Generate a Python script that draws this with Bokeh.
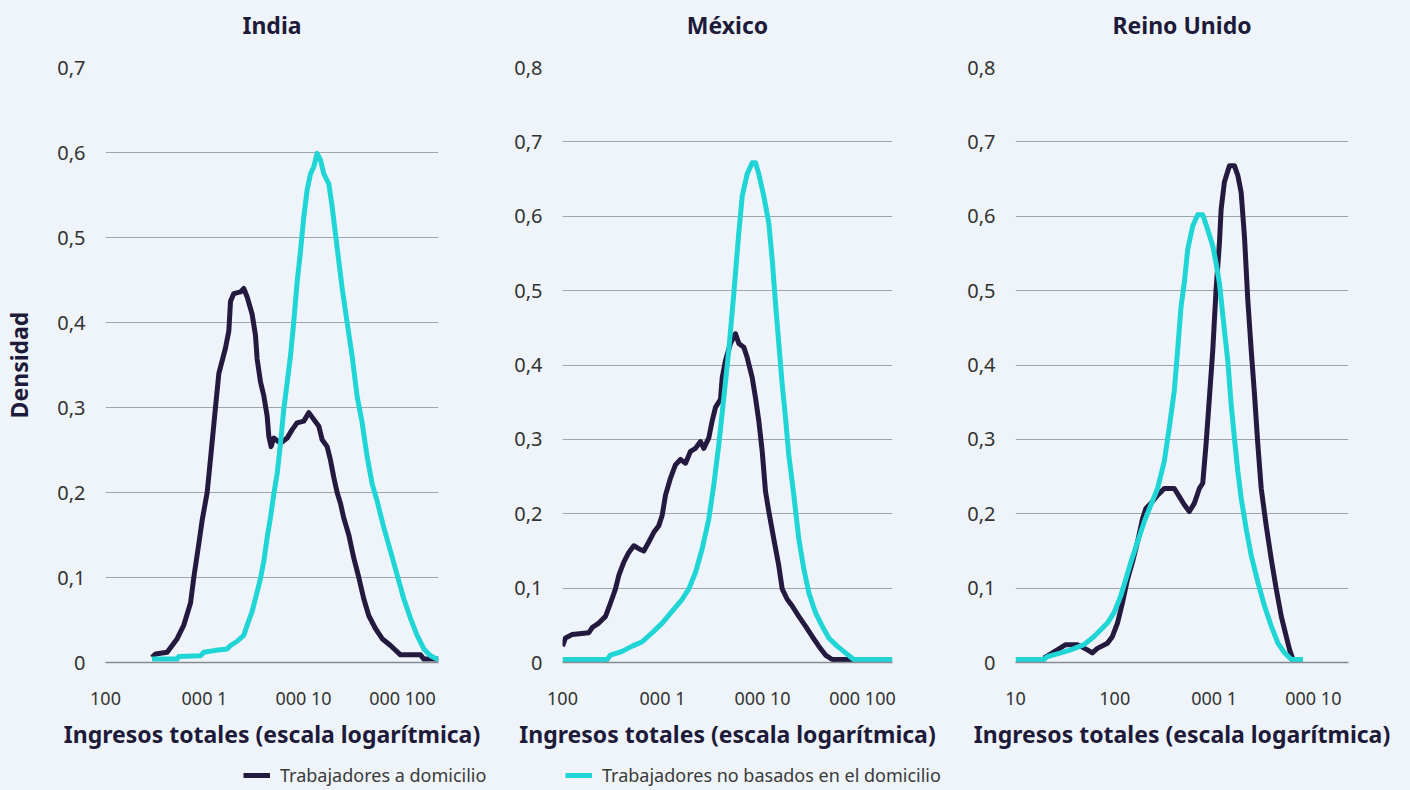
from bokeh.plotting import figure
from bokeh.layouts import row, column
from bokeh.models import Range1d, FixedTicker, Legend, LegendItem, CustomJSTickFormatter, Title
from bokeh.embed import file_html
from bokeh.resources import INLINE

BG = "#EEF4FA"
DARK = "#241A40"
CYAN = "#1FD5D5"
GRID = "#A0A5AB"
TXT = "#333333"
TITLE_C = "#1E1A3A"
FONT = "Noto Sans"

# ---------------- data (log10 of total income, density) ----------------
india_dom_log = [2.47, 2.505, 2.623, 2.724, 2.791, 2.859, 2.892, 2.943, 2.976, 3.027, 3.061, 3.111, 3.145,
                 3.212, 3.246, 3.263, 3.296, 3.364, 3.397, 3.431, 3.481, 3.515, 3.532, 3.566, 3.599, 3.633,
                 3.65, 3.673, 3.7, 3.768, 3.835, 3.886, 3.936, 4.003, 4.054, 4.104, 4.155, 4.189, 4.239,
                 4.273, 4.306, 4.34, 4.374, 4.407, 4.458, 4.508, 4.559, 4.609, 4.66, 4.727, 4.795, 4.879,
                 4.98, 5.182, 5.216, 5.364]
india_dom_den = [0.006, 0.01, 0.012, 0.028, 0.044, 0.07, 0.1, 0.14, 0.167, 0.2, 0.24, 0.3, 0.34,
                 0.37, 0.39, 0.425, 0.434, 0.436, 0.44, 0.43, 0.41, 0.385, 0.357, 0.33, 0.314, 0.29,
                 0.266, 0.254, 0.264, 0.258, 0.264, 0.274, 0.282, 0.284, 0.294, 0.286, 0.278, 0.262, 0.254,
                 0.238, 0.218, 0.2, 0.187, 0.17, 0.15, 0.123, 0.1, 0.075, 0.055, 0.04, 0.028, 0.02,
                 0.009, 0.009, 0.004, 0.004]
india_nodom_log = [2.47, 2.724, 2.74, 2.96, 2.993, 3.094, 3.229, 3.263, 3.33, 3.397, 3.431, 3.481, 3.532,
                   3.566, 3.599, 3.633, 3.667, 3.7, 3.734, 3.768, 3.801, 3.835, 3.869, 3.902, 3.936, 3.97,
                   4.003, 4.037, 4.071, 4.104, 4.138, 4.172, 4.205, 4.256, 4.29, 4.323, 4.357, 4.391, 4.441,
                   4.492, 4.542, 4.593, 4.643, 4.694, 4.744, 4.811, 4.879, 4.946, 5.013, 5.081, 5.148, 5.216,
                   5.283, 5.35, 5.364]
india_nodom_den = [0.004, 0.004, 0.007, 0.008, 0.012, 0.014, 0.016, 0.02, 0.025, 0.032, 0.044, 0.06, 0.083,
                   0.099, 0.119, 0.147, 0.171, 0.198, 0.222, 0.258, 0.298, 0.329, 0.361, 0.401, 0.448, 0.484,
                   0.524, 0.556, 0.575, 0.583, 0.599, 0.591, 0.575, 0.563, 0.536, 0.504, 0.472, 0.44, 0.4,
                   0.36, 0.313, 0.282, 0.242, 0.21, 0.19, 0.159, 0.131, 0.103, 0.075, 0.052, 0.032, 0.016,
                   0.008, 0.004, 0.004]

mexico_dom_log = [2.0, 2.03, 2.097, 2.263, 2.297, 2.363, 2.43, 2.48, 2.53, 2.563, 2.613, 2.663, 2.713,
                  2.763, 2.813, 2.863, 2.913, 2.963, 2.997, 3.03, 3.08, 3.13, 3.18, 3.23, 3.28, 3.33,
                  3.38, 3.413, 3.463, 3.497, 3.53, 3.58, 3.597, 3.63, 3.68, 3.73, 3.763, 3.813, 3.847,
                  3.897, 3.93, 3.963, 3.997, 4.03, 4.063, 4.113, 4.163, 4.197, 4.247, 4.297, 4.363, 4.43,
                  4.497, 4.563, 4.63, 4.697, 4.93]
mexico_dom_den = [0.022, 0.033, 0.0375, 0.04, 0.047, 0.053, 0.062, 0.08, 0.099, 0.117, 0.135, 0.148, 0.157,
                  0.153, 0.15, 0.162, 0.175, 0.184, 0.198, 0.225, 0.248, 0.266, 0.273, 0.268, 0.284, 0.288,
                  0.297, 0.288, 0.302, 0.325, 0.343, 0.354, 0.383, 0.406, 0.429, 0.442, 0.429, 0.424, 0.41,
                  0.383, 0.356, 0.325, 0.284, 0.23, 0.203, 0.166, 0.13, 0.099, 0.085, 0.076, 0.062, 0.049,
                  0.035, 0.022, 0.01, 0.004, 0.004]
mexico_nodom_log = [2.0, 2.447, 2.48, 2.597, 2.697, 2.797, 2.897, 2.997, 3.097, 3.197, 3.263, 3.33, 3.397,
                    3.463, 3.513, 3.563, 3.613, 3.663, 3.713, 3.763, 3.797, 3.847, 3.897, 3.93, 3.963, 4.013,
                    4.063, 4.097, 4.13, 4.163, 4.197, 4.23, 4.263, 4.313, 4.363, 4.413, 4.463, 4.53, 4.597,
                    4.663, 4.747, 4.83, 4.913, 5.30]
mexico_nodom_den = [0.004, 0.004, 0.01, 0.015, 0.022, 0.028, 0.04, 0.053, 0.069, 0.085, 0.099, 0.121, 0.153,
                    0.193, 0.239, 0.293, 0.356, 0.42, 0.496, 0.578, 0.627, 0.657, 0.672, 0.672, 0.657, 0.627,
                    0.591, 0.542, 0.483, 0.429, 0.374, 0.329, 0.279, 0.225, 0.166, 0.126, 0.094, 0.067, 0.049,
                    0.033, 0.022, 0.013, 0.004, 0.004]

uk_dom_log = [1.286, 1.421, 1.505, 1.623, 1.724, 1.774, 1.825, 1.926, 1.976, 2.027, 2.077, 2.128, 2.178,
              2.229, 2.279, 2.313, 2.364, 2.431, 2.498, 2.599, 2.65, 2.7, 2.751, 2.801, 2.852, 2.886,
              2.919, 2.953, 2.987, 3.02, 3.054, 3.071, 3.104, 3.155, 3.205, 3.239, 3.273, 3.306, 3.34,
              3.374, 3.407, 3.441, 3.475, 3.525, 3.576, 3.626, 3.677, 3.727, 3.761, 3.795]
uk_dom_den = [0.006, 0.017, 0.024, 0.024, 0.017, 0.013, 0.019, 0.026, 0.035, 0.053, 0.08, 0.112, 0.135,
              0.162, 0.193, 0.207, 0.214, 0.225, 0.234, 0.234, 0.223, 0.212, 0.203, 0.214, 0.234, 0.241,
              0.293, 0.356, 0.42, 0.501, 0.564, 0.609, 0.646, 0.668, 0.668, 0.655, 0.632, 0.573, 0.487,
              0.42, 0.361, 0.293, 0.234, 0.184, 0.139, 0.099, 0.062, 0.035, 0.017, 0.004]
uk_nodom_log = [1.0, 1.286, 1.32, 1.455, 1.556, 1.69, 1.791, 1.859, 1.926, 1.993, 2.061, 2.111, 2.162,
                2.229, 2.296, 2.364, 2.431, 2.498, 2.549, 2.599, 2.633, 2.667, 2.7, 2.734, 2.785, 2.835,
                2.886, 2.936, 2.987, 3.02, 3.054, 3.104, 3.138, 3.172, 3.205, 3.239, 3.273, 3.323, 3.374,
                3.441, 3.508, 3.576, 3.643, 3.71, 3.778, 3.896]
uk_nodom_den = [0.004, 0.004, 0.008, 0.013, 0.017, 0.024, 0.035, 0.044, 0.053, 0.067, 0.09, 0.112, 0.135,
                0.162, 0.189, 0.212, 0.234, 0.27, 0.316, 0.365, 0.42, 0.478, 0.51, 0.555, 0.587, 0.602,
                0.602, 0.582, 0.56, 0.537, 0.51, 0.447, 0.406, 0.347, 0.302, 0.257, 0.221, 0.18, 0.144,
                0.108, 0.076, 0.049, 0.026, 0.013, 0.004, 0.004]

titles = ["India", "México", "Reino Unido"]
x_title = "Ingresos totales (escala logarítmica)"
y_title = "Densidad"
series_names = ["Trabajadores a domicilio", "Trabajadores no basados en el domicilio"]

india_ticks = [100, 1000, 10000, 100000]
india_tick_labels = ["100", "000 1", "000 10", "000 100"]
mexico_ticks = [100, 1000, 10000, 100000]
mexico_tick_labels = ["100", "000 1", "000 10", "000 100"]
uk_ticks = [10, 100, 1000, 10000]
uk_tick_labels = ["10", "100", "000 1", "000 10"]

india_xlim = [2.0, 5.364]
mexico_xlim = [2.0, 5.30]
uk_xlim = [1.0, 4.354]

india_yticks = [0, 0.1, 0.2, 0.3, 0.4, 0.5, 0.6, 0.7]
mexico_yticks = [0, 0.1, 0.2, 0.3, 0.4, 0.5, 0.6, 0.7, 0.8]
uk_yticks = [0, 0.1, 0.2, 0.3, 0.4, 0.5, 0.6, 0.7, 0.8]

H = 758


def panel(title, xlim, ticks, tick_labels, yticks, width, bl, br, dom, nodom, ylabel=None):
    p = figure(width=width, height=H, x_axis_type="log", title=None,
               x_range=Range1d(10 ** xlim[0], 10 ** xlim[1]),
               y_range=Range1d(0, yticks[-1]),
               output_backend="svg", toolbar_location=None,
               min_border_left=bl, min_border_right=br, min_border_top=67, min_border_bottom=96,
               background_fill_color=BG, border_fill_color=BG, outline_line_color=None)
    # blank spacer title next to the frame, then the real title above it
    p.add_layout(Title(text=" ", text_font_size="1px", standoff=24), "above")
    p.add_layout(Title(text=title, align="center", text_font=FONT, text_font_style="bold",
                       text_font_size="23px", text_color=TITLE_C, standoff=0), "above")

    p.xgrid.visible = False
    p.ygrid.grid_line_color = GRID
    p.ygrid.grid_line_width = 1
    p.ygrid.ticker = FixedTicker(ticks=yticks)

    xa = p.xaxis[0]
    xa.ticker = FixedTicker(ticks=ticks)
    xa.major_label_overrides = dict(zip(ticks, tick_labels))
    xa.axis_line_color = "#868B91"
    xa.axis_line_width = 1.5
    xa.major_tick_line_color = None
    xa.minor_tick_line_color = None
    xa.major_tick_out = 0
    xa.major_tick_in = 0
    xa.minor_tick_out = 0
    xa.major_label_standoff = 23
    xa.major_label_text_font = FONT
    xa.major_label_text_font_size = "18px"
    xa.major_label_text_color = TXT
    xa.axis_label = x_title
    xa.axis_label_text_font = FONT
    xa.axis_label_text_font_style = "bold"
    xa.axis_label_text_font_size = "23px"
    xa.axis_label_text_color = TITLE_C
    xa.axis_label_standoff = 5

    ya = p.yaxis[0]
    ya.ticker = FixedTicker(ticks=yticks)
    ya.formatter = CustomJSTickFormatter(code="return tick === 0 ? '0' : tick.toFixed(1).replace('.', ',');")
    ya.axis_line_color = None
    ya.major_tick_line_color = None
    ya.minor_tick_line_color = None
    ya.major_tick_out = 0
    ya.major_tick_in = 0
    ya.minor_tick_out = 0
    ya.major_label_standoff = 20
    ya.major_label_text_font = FONT
    ya.major_label_text_font_size = "20px"
    ya.major_label_text_color = TXT
    if ylabel:
        ya.axis_label = ylabel
        ya.axis_label_text_font = FONT
        ya.axis_label_text_font_style = "bold"
        ya.axis_label_text_font_size = "23px"
        ya.axis_label_text_color = TITLE_C
        ya.axis_label_standoff = 19

    p.line([10 ** v for v in dom[0]], dom[1], line_color=DARK, line_width=5, line_join="round")
    p.line([10 ** v for v in nodom[0]], nodom[1], line_color=CYAN, line_width=5, line_join="round")
    return p


p1 = panel(titles[0], india_xlim, india_ticks, india_tick_labels, india_yticks, 500, 105, 62,
           (india_dom_log, india_dom_den), (india_nodom_log, india_nodom_den), ylabel=y_title)
p2 = panel(titles[1], mexico_xlim, mexico_ticks, mexico_tick_labels, mexico_yticks, 455, 62, 63,
           (mexico_dom_log, mexico_dom_den), (mexico_nodom_log, mexico_nodom_den))
p3 = panel(titles[2], uk_xlim, uk_ticks, uk_tick_labels, uk_yticks, 455, 60, 62,
           (uk_dom_log, uk_dom_den), (uk_nodom_log, uk_nodom_den))

leg = figure(width=1410, height=32, output_backend="svg", toolbar_location=None,
             x_range=Range1d(0, 1), y_range=Range1d(0, 1), min_border=0,
             background_fill_color=BG, border_fill_color=BG, outline_line_color=None)
leg.axis.visible = False
leg.grid.visible = False
# hidden renderers carrying the real series; only their legend glyphs are shown
r1 = leg.line(x=india_dom_log, y=india_dom_den, line_color=DARK, line_width=5, visible=False)
r2 = leg.line(x=india_nodom_log, y=india_nodom_den, line_color=CYAN, line_width=5, visible=False)
for r, name, xloc in [(r1, series_names[0], 243), (r2, series_names[1], 565)]:
    lg = Legend(items=[LegendItem(label=name, renderers=[r])], location=(xloc, 3),
                orientation="horizontal", background_fill_alpha=0, border_line_color=None,
                inactive_fill_alpha=0, click_policy="none",
                padding=0, margin=0, glyph_width=27, glyph_height=18, label_height=18,
                label_standoff=10, label_text_font=FONT, label_text_font_size="18px",
                label_text_color="#3A3A3A")
    leg.add_layout(lg)

layout = column(row(p1, p2, p3), leg)
html = file_html(layout, INLINE, title="Densidad de ingresos")
html = html.replace("<head>", "<head><style>html,body{background-color:#EEF4FA;}</style>", 1)
open("out.html", "w").write(html)
